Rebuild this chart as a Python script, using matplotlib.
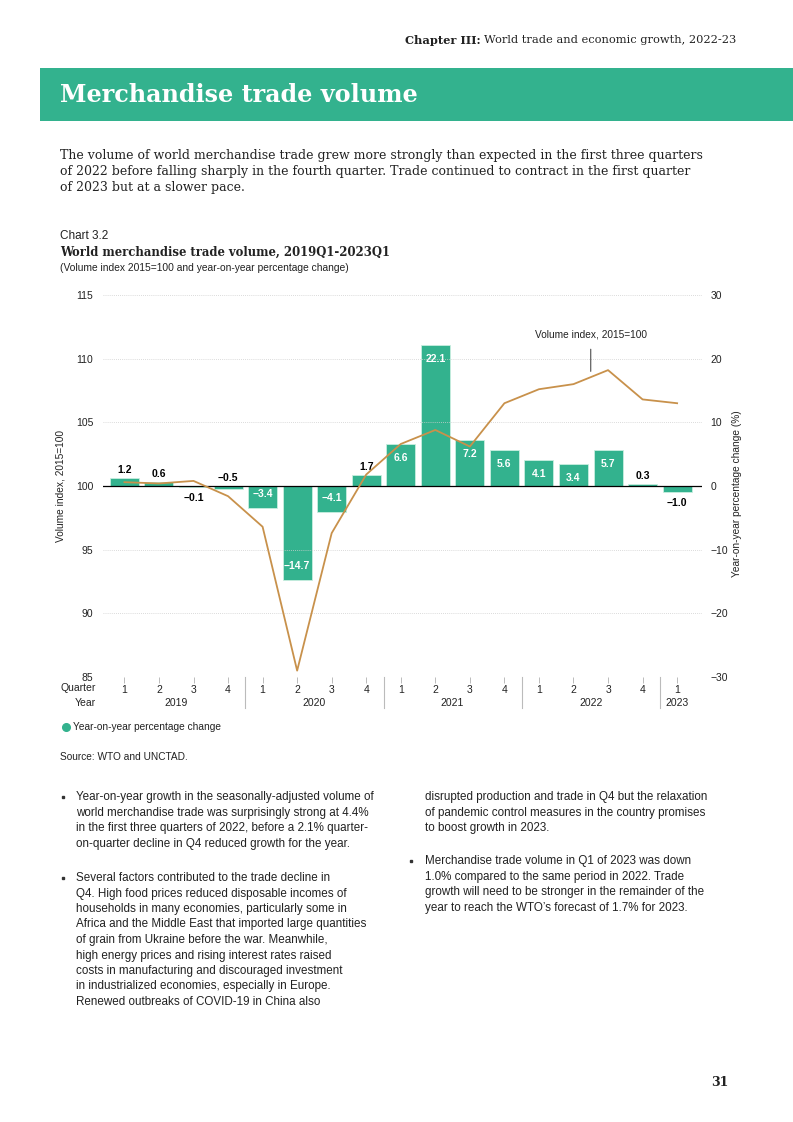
import numpy as np
import matplotlib.pyplot as plt
from matplotlib.lines import Line2D
from matplotlib.patches import Rectangle

# data
quarters = ['1', '2', '3', '4', '1', '2', '3', '4', '1', '2', '3', '4', '1', '2', '3', '4', '1']
years = ['2019', '2020', '2021', '2022', '2023']
year_len = [4, 4, 4, 4, 1]
yoy_change = [1.2, 0.6, -0.1, -0.5, -3.4, -14.7, -4.1, 1.7, 6.6, 22.1, 7.2, 5.6, 4.1, 3.4, 5.7, 0.3, -1.0]
volume_index = [100.3, 100.2, 100.4, 99.2, 96.8, 85.5, 96.3, 100.9, 103.3, 104.4, 103.1, 106.5,
                107.6, 108.0, 109.1, 106.8, 106.5]
label_pos = ['above', 'above', 'below', 'above', 'in', 'in', 'in', 'above', 'in', 'in', 'in', 'in',
             'in', 'in', 'in', 'above', 'below']

GREEN = '#33b28e'
LINE = '#c8914b'
TXT = '#222222'
SANS = 'Liberation Sans'
SLAB = 'DejaVu Serif'

W, H = 793, 1122
fig = plt.figure(figsize=(W / 100, H / 100), dpi=100)


def fx(x):
    return x / W


def fy(y):
    return 1 - y / H


# header and banner
hdr = fig.text(fx(736), fy(40), 'World trade and economic growth, 2022-23', ha='right', va='center',
               fontsize=8.2, family=SLAB, color=TXT)
fig.add_artist(Rectangle((fx(40), fy(121)), 1 - fx(40), fy(68) - fy(121), transform=fig.transFigure,
                         color=GREEN, lw=0))
fig.text(fx(60), fy(95), 'Merchandise trade volume', ha='left', va='center', fontsize=17.2,
         weight='bold', family=SLAB, color='white')

intro = ['The volume of world merchandise trade grew more strongly than expected in the first three quarters',
         'of 2022 before falling sharply in the fourth quarter. Trade continued to contract in the first quarter',
         'of 2023 but at a slower pace.']
for i, s in enumerate(intro):
    fig.text(fx(60), fy(156 + 16 * i), s, ha='left', va='center', fontsize=9.0, family=SLAB, color=TXT)

fig.text(fx(60), fy(236), 'Chart 3.2', ha='left', va='center', fontsize=8.5, family=SANS, color=TXT)
fig.text(fx(60), fy(252), 'World merchandise trade volume, 2019Q1-2023Q1', ha='left', va='center',
         fontsize=8.4, weight='bold', family=SLAB, color=TXT)
fig.text(fx(60), fy(268), '(Volume index 2015=100 and year-on-year percentage change)', ha='left',
         va='center', fontsize=7.4, family=SANS, color=TXT)

# chart
ax = fig.add_axes([fx(103), fy(677), fx(702) - fx(103), fy(295) - fy(677)])
ax2 = ax.twinx()
x = np.arange(len(quarters))

ax2.bar(x, yoy_change, width=0.84, color=GREEN, edgecolor='#c9eee0', linewidth=0.6, zorder=2)
ax2.set_ylim(-30, 30)
ax2.set_yticks(np.arange(-30, 31, 10))
ax2.set_yticklabels(['\u221230', '\u221220', '\u221210', '0', '10', '20', '30'])

for xi, v, pos in zip(x, yoy_change, label_pos):
    txt = '{:.1f}'.format(v).replace('-', '\u2212')
    if pos == 'in':
        off = -10 if v > 0 else 10
        col = 'white'
    elif pos == 'above':
        off = 6
        col = 'black'
        v = max(v, 0)
    else:
        off = -8
        col = 'black'
        v = min(v, 0)
    ax2.annotate(txt, (xi, v), xytext=(0, off), textcoords='offset points', ha='center', va='center',
                 fontsize=7.5, weight='bold', color=col, family=SANS, zorder=5)

ax.plot(x, volume_index, color=LINE, lw=1.3, zorder=4)
ax.set_ylim(85, 115)
ax.set_yticks(np.arange(85, 116, 5))
for yv in np.arange(85, 116, 5):
    ax.axhline(yv, color='#cfcfcf', lw=0.6, ls=(0, (1, 1.5)), zorder=0)
ax.set_xlim(-0.62, len(quarters) - 1 + 0.72)

ax.set_zorder(ax2.get_zorder() + 1)
ax.patch.set_visible(False)
ax.axhline(100, color='black', lw=0.9, zorder=3)

for a in (ax, ax2):
    for sp in a.spines.values():
        sp.set_visible(False)
ax.tick_params(axis='y', length=0, labelsize=7.5, labelcolor=TXT, pad=7)
ax2.tick_params(axis='y', length=0, labelsize=7.5, labelcolor=TXT, pad=6)
for lab in ax.get_yticklabels() + ax2.get_yticklabels():
    lab.set_family(SANS)

ax.set_xticks(x)
ax.set_xticklabels(quarters, fontsize=7.5, family=SANS, color=TXT)
ax.tick_params(axis='x', length=4, color='#bbbbbb', width=0.7, pad=2)

ax.set_ylabel('Volume index, 2015=100', fontsize=7.3, family=SANS, color=TXT, labelpad=8)
ax2.set_ylabel('Year-on-year percentage change (%)', fontsize=7.3, family=SANS, color=TXT, labelpad=4)
ax2.yaxis.set_label_coords(1.05, 0.48)
ax.yaxis.set_label_coords(-0.062, 0.5)

# quarter / year rows
yr_y = (703 - 677) / (677 - 295)
ax.text(-0.012, -0.028, 'Quarter', transform=ax.transAxes, ha='right', va='center', fontsize=7.5,
        family=SANS, color=TXT)
ax.text(-0.012, -yr_y, 'Year', transform=ax.transAxes, ha='right', va='center', fontsize=7.5,
        family=SANS, color=TXT)
start = 0
for yr, n in zip(years, year_len):
    mid = start + (n - 1) / 2
    ax.text(mid, -yr_y, yr, transform=ax.get_xaxis_transform(), ha='center', va='center',
            fontsize=7.5, family=SANS, color=TXT)
    if start > 0:
        ax.add_line(Line2D([start - 0.5, start - 0.5], [0, -(708 - 677) / (677 - 295)],
                           transform=ax.get_xaxis_transform(), color='#bbbbbb', lw=0.8, clip_on=False))
    start += n

ax.annotate('Volume index, 2015=100', xy=(13.5, 109.0), xytext=(13.5, 111.9), ha='center', va='center',
            fontsize=7.3, family=SANS, color=TXT,
            arrowprops=dict(arrowstyle='-', color='#333333', lw=0.7, shrinkA=5, shrinkB=0))

# legend
fig.add_artist(Line2D([fx(66)], [fy(727)], marker='o', ms=5.5, color=GREEN, lw=0,
                      transform=fig.transFigure))
fig.text(fx(73), fy(727), 'Year-on-year percentage change', ha='left', va='center', fontsize=7.3,
         family=SANS, color=TXT)
fig.text(fx(60), fy(757), 'Source: WTO and UNCTAD.', ha='left', va='center', fontsize=7.3,
         family=SANS, color=TXT)

left_col = [
    (797, True, 'Year-on-year growth in the seasonally-adjusted volume of'),
    (812.6, False, 'world merchandise trade was surprisingly strong at 4.4%'),
    (828.2, False, 'in the first three quarters of 2022, before a 2.1% quarter-'),
    (843.8, False, 'on-quarter decline in Q4 reduced growth for the year.'),
    (878, True, 'Several factors contributed to the trade decline in'),
    (893.5, False, 'Q4. High food prices reduced disposable incomes of'),
    (909, False, 'households in many economies, particularly some in'),
    (924.5, False, 'Africa and the Middle East that imported large quantities'),
    (940, False, 'of grain from Ukraine before the war. Meanwhile,'),
    (955.5, False, 'high energy prices and rising interest rates raised'),
    (971, False, 'costs in manufacturing and discouraged investment'),
    (986.5, False, 'in industrialized economies, especially in Europe.'),
    (1002, False, 'Renewed outbreaks of COVID-19 in China also'),
]
right_col = [
    (797, False, 'disrupted production and trade in Q4 but the relaxation'),
    (812.6, False, 'of pandemic control measures in the country promises'),
    (828.2, False, 'to boost growth in 2023.'),
    (861, True, 'Merchandise trade volume in Q1 of 2023 was down'),
    (876.6, False, '1.0% compared to the same period in 2022. Trade'),
    (892.2, False, 'growth will need to be stronger in the remainder of the'),
    (907.8, False, 'year to reach the WTO\u2019s forecast of 1.7% for 2023.'),
]
for col, xt, xb in ((left_col, 76, 63), (right_col, 425, 411)):
    for yy, bullet, s in col:
        fig.text(fx(xt), fy(yy), s, ha='left', va='center', fontsize=8.4, family=SANS, color=TXT)
        if bullet:
            fig.add_artist(Line2D([fx(xb)], [fy(yy)], marker='s', ms=2.1, color='#333333', lw=0,
                                  transform=fig.transFigure))

fig.text(fx(729), fy(1083), '31', ha='right', va='center', fontsize=9, weight='bold', family=SLAB,
         color=TXT)

# bold "Chapter III:" in front of the header
fig.canvas.draw()
bb = hdr.get_window_extent()
fig.text(bb.x0 / W - fx(3), fy(40), 'Chapter III:', ha='right', va='center', fontsize=8.2,
         weight='bold', family=SLAB, color=TXT)

fig.savefig('out.png', dpi=100)
